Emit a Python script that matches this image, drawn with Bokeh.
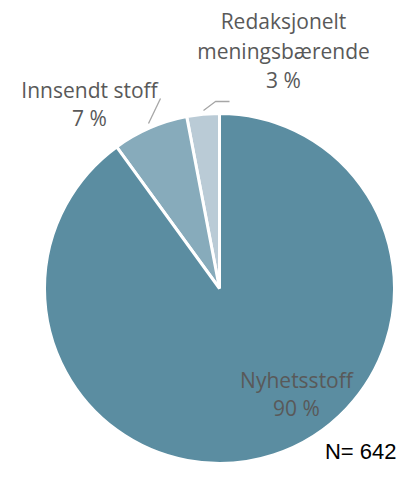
import numpy as np
from bokeh.plotting import figure
from bokeh.models import Range1d, ColumnDataSource
from bokeh.core.properties import value
from bokeh.embed import file_html
from bokeh.resources import INLINE

categories = ["Redaksjonelt meningsbærende", "Innsendt stoff", "Nyhetsstoff"]
shares = [3, 7, 90]
colors = ["#BACBD6", "#87ABBB", "#5B8DA1"]
label_lines = [["Redaksjonelt", "meningsbærende", "3 %"],
               ["Innsendt stoff", "7 %"],
               ["Nyhetsstoff", "90 %"]]
n_text = "N= 642"

W, H = 397, 463
# data coords: x = pixel x, y = H - pixel y
p = figure(width=W, height=H, output_backend="svg", toolbar_location=None,
           x_range=Range1d(0, W), y_range=Range1d(0, H),
           min_border=0)
p.axis.visible = False
p.grid.visible = False
p.outline_line_color = None
p.background_fill_color = "white"
p.border_fill_color = "white"

cx, cy, r = 219, H - 288, 175
fr = np.array(shares) / sum(shares)
cum = np.concatenate([[0], np.cumsum(fr)])
start = np.pi / 2 + 2 * np.pi * cum[:-1]
end = np.pi / 2 + 2 * np.pi * cum[1:]
src = ColumnDataSource(dict(start=start, end=end, color=colors))
p.wedge(x=cx, y=cy, radius=r, start_angle="start", end_angle="end",
        fill_color="color", line_color="white", line_width=3, source=src)

# leader lines
p.line([148, 160], [H - 123, H - 98], line_color="#A6A6A6", line_width=1.3)
p.line([203, 215, 229], [H - 110, H - 101, H - 101], line_color="#A6A6A6", line_width=1.3)

font = value("Open Sans")
lab_pos = [(283, [20.5, 50.5, 79.5]), (89, [89.5, 117.5]), (296, [379.5, 407.5])]
for lines, (lx, ys) in zip(label_lines, lab_pos):
    p.text(x=[lx] * len(lines), y=[H - yy for yy in ys], text=lines,
           text_font=font, text_font_size="21px", text_color="#595959",
           text_align="center", text_baseline="middle")

p.text(x=[396], y=[H - 451], text=[n_text], text_font=value("Liberation Sans"),
       text_font_size="22px", text_color="#000000", text_align="right",
       text_baseline="middle")

open("out.html", "w").write(file_html(p, INLINE))
